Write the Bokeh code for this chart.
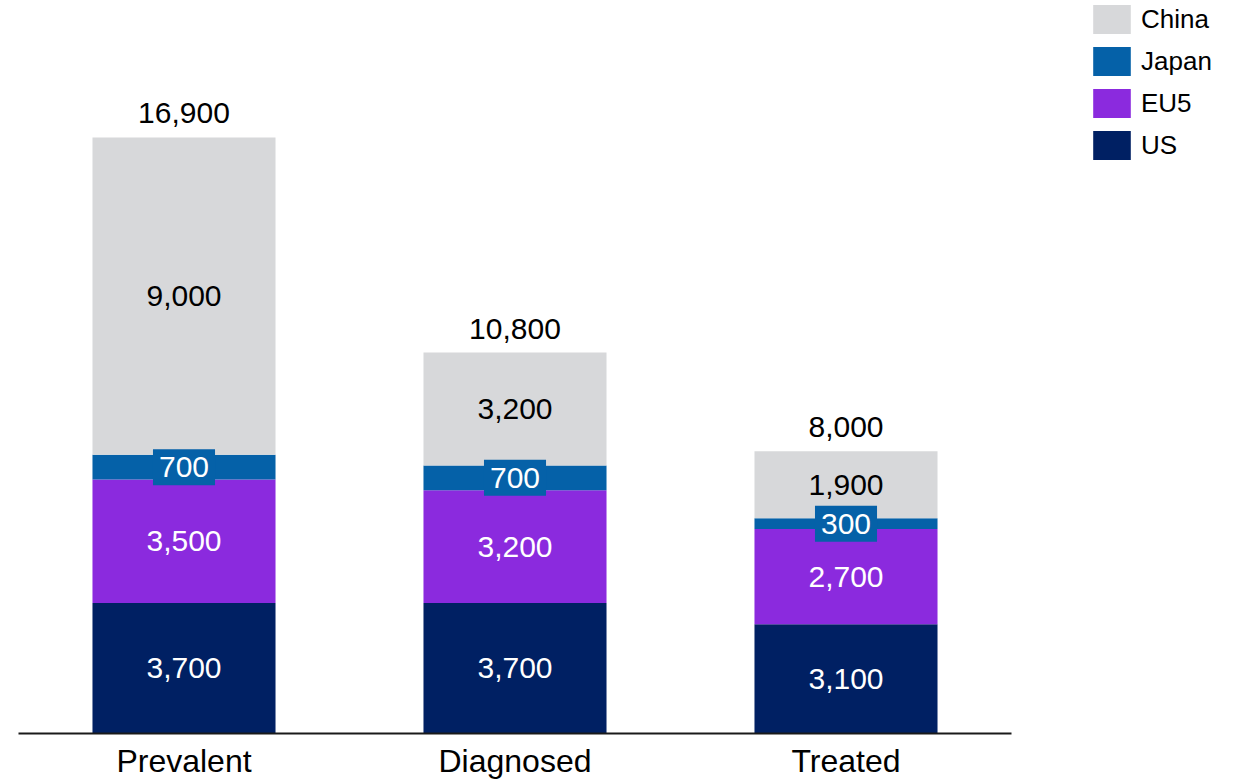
from bokeh.plotting import figure
from bokeh.models import (ColumnDataSource, Legend, LegendItem, Range1d, FixedTicker)
from bokeh.core.properties import value
from bokeh.embed import file_html
from bokeh.resources import INLINE

# ---- data ----
categories = ["Prevalent", "Diagnosed", "Treated"]
us = [3700, 3700, 3100]
eu5 = [3500, 3200, 2700]
japan = [700, 700, 300]
china = [9000, 3200, 1900]
totals = [16900, 10800, 8000]

series_names = ["US", "EU5", "Japan", "China"]
colors = ["#002063", "#8b2ade", "#0561a8", "#d7d8da"]
text_colors = ["#ffffff", "#ffffff", "#ffffff", "#000000"]

FONT = "Liberation Sans"

W, H = 1243, 781
LEFT = 18
xpos = list(range(len(categories)))
src = ColumnDataSource(dict(x=xpos, cat=categories, US=us, EU5=eu5, Japan=japan, China=china,
                            total=totals, total_txt=[f"{t:,}" for t in totals]))

p = figure(width=W, height=H, output_backend="svg", toolbar_location=None,
           x_range=Range1d(-0.5, -0.5 + (W - LEFT) / 331.0), y_range=Range1d(0, 20783),
           y_axis_location=None, min_border_left=LEFT, min_border_right=0,
           min_border_top=0, min_border_bottom=0)
p.outline_line_color = None
p.grid.visible = False
p.background_fill_color = "white"

renderers = p.vbar_stack(series_names, x="x", width=0.553, color=colors, source=src,
                         line_width=0)

# segment labels
data_lists = [us, eu5, japan, china]
bottoms = [0] * len(categories)
for name, vals, tc in zip(series_names, data_lists, text_colors):
    mids = [b + v / 2 for b, v in zip(bottoms, vals)]
    s = ColumnDataSource(dict(x=xpos, y=mids, t=[f"{v:,}" for v in vals]))
    kw = {}
    if name == "Japan":
        kw = dict(background_fill_color="#0561a8", padding=(6, 8))
    p.text(x="x", y="y", text="t", source=s, text_align="center", text_baseline="middle",
           text_font=value(FONT), text_font_size="30px", text_color=tc, **kw)
    bottoms = [b + v for b, v in zip(bottoms, vals)]

# totals
p.text(x="x", y="total", text="total_txt", source=src, text_align="center",
       text_baseline="alphabetic", y_offset=-24, text_font=value(FONT),
       text_font_size="30px", text_color="#000000")

# x axis
ax = p.xaxis[0]
ax.ticker = FixedTicker(ticks=xpos)
ax.major_label_overrides = {i: c for i, c in zip(xpos, categories)}
ax.bounds = (-0.5, 2.5)
ax.axis_line_color = "#1a1a1a"
ax.axis_line_width = 2
ax.major_tick_line_color = None
ax.minor_tick_line_color = None
ax.major_tick_out = 0
ax.major_tick_in = 0
ax.minor_tick_out = 0
ax.minor_tick_in = 0
ax.major_label_text_font = FONT
ax.major_label_text_font_size = "32px"
ax.major_label_text_color = "#000000"
ax.major_label_standoff = 9

# legend (top entry China)
items = [LegendItem(label=n, renderers=[r]) for n, r in zip(series_names, renderers)][::-1]
legend = Legend(items=items, location=(1070, 570), glyph_width=47, glyph_height=36,
                label_height=36, spacing=6, padding=0, margin=0, label_standoff=6,
                label_text_font=FONT, label_text_font_size="26px", label_text_color="#000000",
                border_line_color=None, background_fill_alpha=0)
p.add_layout(legend)

open("out.html", "w").write(file_html(p, INLINE))
